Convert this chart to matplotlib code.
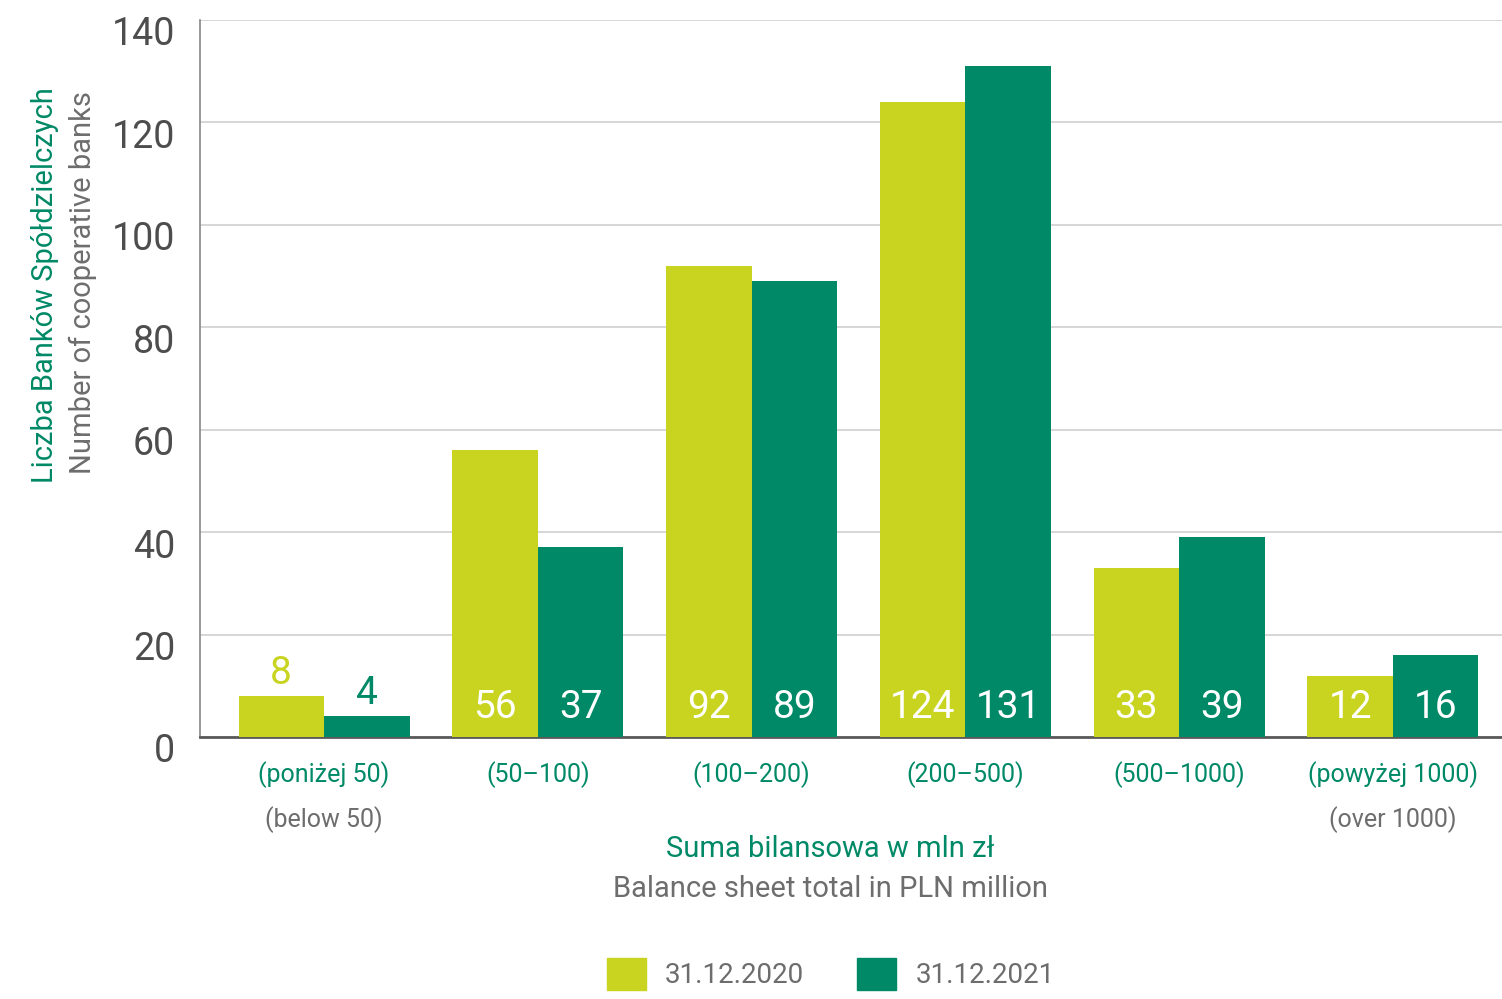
import numpy as np
import matplotlib
matplotlib.use("Agg")
import matplotlib.pyplot as plt
from matplotlib.patches import Patch
from matplotlib.transforms import ScaledTranslation

categories_pl = ["(poniżej 50)", "(50–100)", "(100–200)", "(200–500)", "(500–1000)", "(powyżej 1000)"]
categories_en = ["(below 50)", "", "", "", "", "(over 1000)"]
values_2020 = [8, 56, 92, 124, 33, 12]
values_2021 = [4, 37, 89, 131, 39, 16]
series_labels = ["31.12.2020", "31.12.2021"]

light = "#C8D41F"
dark = "#008966"
grey = "#6d6d6d"
tick_grey = "#4d4d4d"

plt.rcParams['font.family'] = ['Roboto', 'DejaVu Sans']

fig = plt.figure(figsize=(15.02, 9.99), dpi=100)
ax = fig.add_axes([0.1332, 0.2623, 0.8668, 0.7177])

x = np.arange(len(categories_pl))
w = 0.4
ax.bar(x - w / 2, values_2020, w, color=light, zorder=3)
ax.bar(x + w / 2, values_2021, w, color=dark, zorder=3)

# value labels: inside near the base for taller bars, above for short ones
for xi, v2020, v2021 in zip(x, values_2020, values_2021):
    for off, v, col in [(-w / 2, v2020, light), (w / 2, v2021, dark)]:
        if v >= 10:
            ax.text(xi + off, 5.8, str(v), ha="center", va="center",
                    color="white", fontsize=28, zorder=4)
        else:
            ax.text(xi + off, v + 0.8, str(v), ha="center", va="bottom",
                    color=col, fontsize=28, zorder=4)

ax.set_xlim(-0.58, 5.51)
ax.set_ylim(0, 140)
ax.set_yticks(range(0, 141, 20))
ax.tick_params(axis="y", length=0, labelsize=27, labelcolor=tick_grey, pad=18)
shift = ScaledTranslation(0, -0.11, fig.dpi_scale_trans)
for lab in ax.get_yticklabels():
    lab.set_transform(lab.get_transform() + shift)
ax.set_xticks([])
ax.grid(axis="y", color="#d0d0d0", linewidth=1.2, zorder=0)
for s in ["top", "right"]:
    ax.spines[s].set_visible(False)
ax.spines["left"].set_color("#888888")
ax.spines["left"].set_linewidth(1.2)
ax.spines["bottom"].set_color("#5a5a5a")
ax.spines["bottom"].set_linewidth(2)

# category labels
trans = ax.get_xaxis_transform()
for xi, pl, en in zip(x, categories_pl, categories_en):
    ax.text(xi, -0.053, pl, transform=trans, ha="center", va="center",
            color=dark, fontsize=18)
    if en:
        ax.text(xi, -0.115, en, transform=trans, ha="center", va="center",
                color=grey, fontsize=18)

# axis titles
fig.text(0.5526, 1 - 849 / 999, "Suma bilansowa w mln zł", ha="center", va="center",
         color=dark, fontsize=21)
fig.text(0.5526, 1 - 889 / 999, "Balance sheet total in PLN million", ha="center",
         va="center", color=grey, fontsize=21)
fig.text(45 / 1502, 1 - 285 / 999, "Liczba Banków Spółdzielczych", rotation=90,
         ha="center", va="center", color=dark, fontsize=21)
fig.text(83 / 1502, 1 - 283 / 999, "Number of cooperative banks", rotation=90,
         ha="center", va="center", color=grey, fontsize=21)

handles = [Patch(color=light), Patch(color=dark)]
fig.legend(handles, series_labels, loc="lower center", bbox_to_anchor=(0.553, -0.016),
           ncol=2, frameon=False, fontsize=20, handlelength=1.4, handleheight=1.4,
           columnspacing=1.9, handletextpad=0.7, labelcolor=grey)

fig.savefig("out.png", dpi=100)
